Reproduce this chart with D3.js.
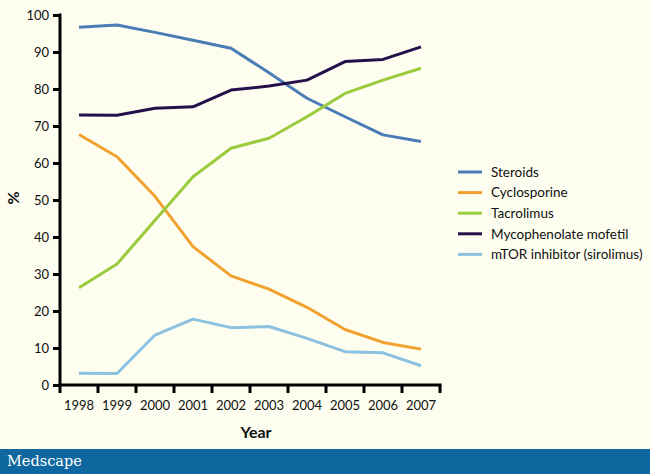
<!DOCTYPE html>
<html><head><meta charset="utf-8">
<script src="https://cdn.jsdelivr.net/npm/d3@7"></script>
<style>html,body{margin:0;padding:0;background:#fefef0;}svg{display:block;}</style>
</head><body>
<svg id="c" width="650" height="474"></svg>
<script>
const years = ["1998","1999","2000","2001","2002","2003","2004","2005","2006","2007"];
const steroids = [96.7, 97.3, 95.3, 93.2, 91.0, 84.4, 77.5, 72.5, 67.6, 65.8];
const cyclosporine = [67.7, 61.7, 51.0, 37.4, 29.5, 25.9, 21.0, 15.0, 11.5, 9.7];
const tacrolimus = [26.3, 32.7, 44.5, 56.3, 64.0, 66.7, 72.5, 78.8, 82.4, 85.6];
const mycophenolate = [73.0, 72.9, 74.8, 75.2, 79.7, 80.8, 82.4, 87.4, 88.0, 91.4];
const mtor = [3.2, 3.1, 13.5, 17.8, 15.5, 15.8, 12.6, 9.0, 8.7, 5.2];
const seriesNames = ["Steroids","Cyclosporine","Tacrolimus","Mycophenolate mofetil","mTOR inhibitor (sirolimus)"];
const yTicks = [0,10,20,30,40,50,60,70,80,90,100];

const colors = ["#4a7db5","#f0a12e","#9acb3c","#24104a","#8cc2e0"];
const seriesVals = [steroids, cyclosporine, tacrolimus, mycophenolate, mtor];

const svg = d3.select("#c");
svg.append("rect").attr("width",650).attr("height",474).attr("fill","#fefef0");

const x = d3.scaleBand().domain(years).range([60,440]);
const y = d3.scaleLinear().domain([0,100]).range([385,15]);
const font = "Lato, 'Open Sans', sans-serif";

// lines
const line = d3.line().x((d,i)=>x(years[i])+x.bandwidth()/2).y(d=>y(d));
seriesVals.forEach((vals,k)=>{
  svg.append("path").datum(vals).attr("d",line).attr("fill","none")
    .attr("stroke",colors[k]).attr("stroke-width",3).attr("stroke-linejoin","round");
});

// y axis
const yAxis = svg.append("g").attr("transform","translate(60,0)")
  .call(d3.axisLeft(y).tickValues(yTicks).tickSize(7).tickPadding(4));
yAxis.select(".domain").attr("stroke","#000").attr("stroke-width",3).attr("d","M0,13.5V386.5");
yAxis.selectAll(".tick line").attr("stroke","#000").attr("stroke-width",3);
yAxis.selectAll("text").attr("font-family",font).attr("font-size",13).attr("fill","#111");

// x axis
const xAxis = svg.append("g").attr("transform","translate(0,385)")
  .call(d3.axisBottom(x).tickSize(0).tickPadding(16));
xAxis.select(".domain").attr("stroke","#000").attr("stroke-width",3).attr("d","M58.5,0H441.5");
xAxis.selectAll("text").attr("font-family",font).attr("font-size",13).attr("fill","#111");
// boundary ticks
const bounds = years.map(d=>x(d)).concat([x(years[years.length-1])+x.bandwidth()]);
xAxis.selectAll(".btick").data(bounds).enter().append("line")
  .attr("x1",d=>d).attr("x2",d=>d).attr("y1",0).attr("y2",8)
  .attr("stroke","#000").attr("stroke-width",3);

// axis titles
svg.append("text").attr("x",256).attr("y",438).attr("text-anchor","middle")
  .attr("font-family",font).attr("font-weight","bold").attr("font-size",16).attr("fill","#111").text("Year");
svg.append("text").attr("transform","translate(19,198) rotate(-90)").attr("text-anchor","middle")
  .attr("font-family",font).attr("font-weight","bold").attr("font-size",16).attr("fill","#111").text("%");

// legend
const lg = svg.append("g");
seriesNames.forEach((n,i)=>{
  const yy = 172 + i*20.6;
  lg.append("line").attr("x1",458).attr("x2",482).attr("y1",yy).attr("y2",yy)
    .attr("stroke",colors[i]).attr("stroke-width",3);
  lg.append("text").attr("x",491).attr("y",yy).attr("dy","0.35em")
    .attr("font-family",font).attr("font-size",13.5).attr("fill","#111").text(n);
});

// footer
svg.append("rect").attr("x",0).attr("y",449).attr("width",650).attr("height",25).attr("fill","#0f67a0");
svg.append("text").attr("x",7).attr("y",466).attr("font-family","'DejaVu Serif', 'Liberation Serif', serif")
  .attr("font-size",14.5).attr("fill","#fff").text("Medscape");
</script>
</body></html>
